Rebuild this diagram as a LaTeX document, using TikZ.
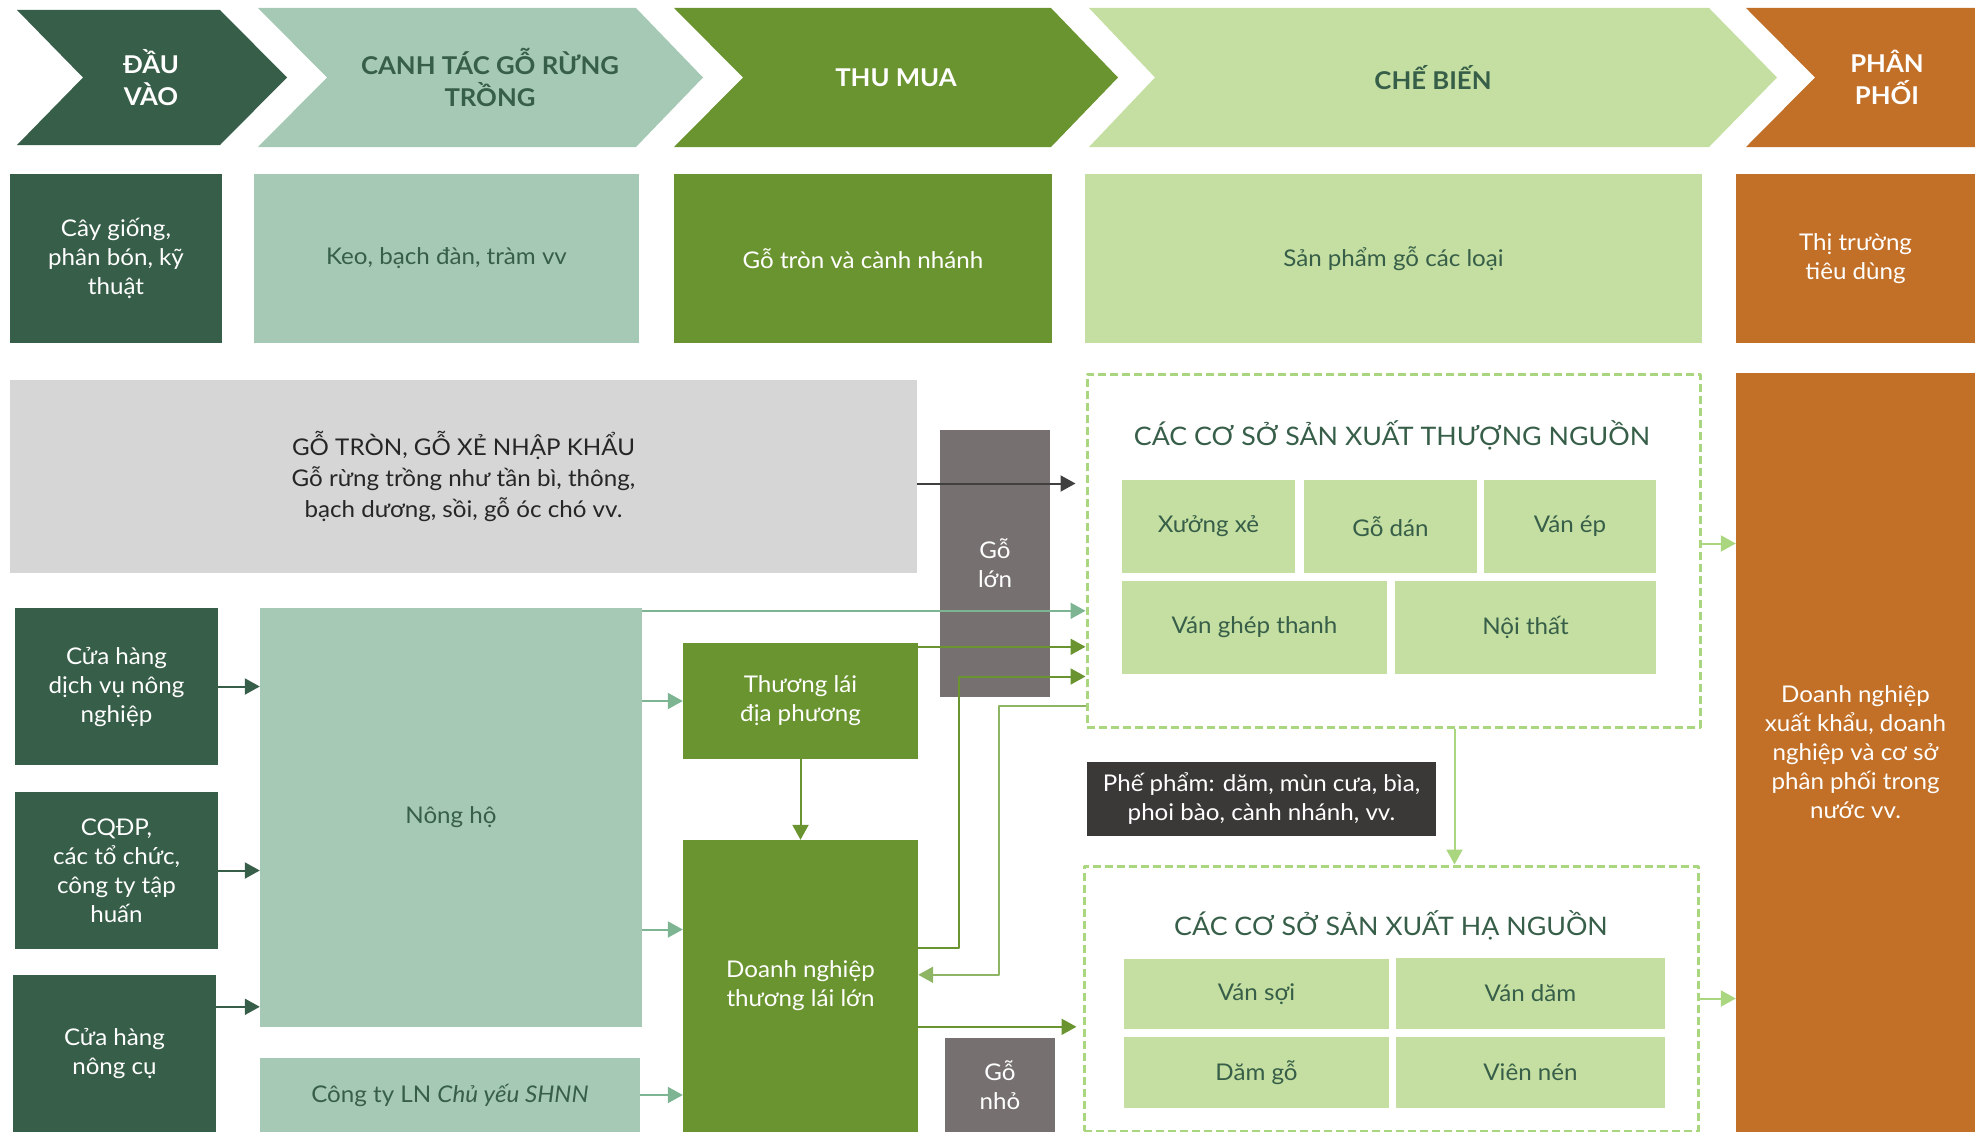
\documentclass[tikz,border=0pt]{standalone}
\usepackage{fontspec}
\setmainfont{Lato}[FakeStretch=1.05]
\usetikzlibrary{arrows.meta,calc}
\definecolor{darkgreen}{HTML}{375E48}
\definecolor{sage}{HTML}{A5C9B4}
\definecolor{sagearrow}{HTML}{7DB593}
\definecolor{olive}{HTML}{6A9430}
\definecolor{olivelight}{HTML}{8DB563}
\definecolor{lime}{HTML}{C4DFA1}
\definecolor{limeline}{HTML}{A9D67E}
\definecolor{rust}{HTML}{C27027}
\definecolor{greylight}{HTML}{D6D6D6}
\definecolor{greydark}{HTML}{767170}
\definecolor{charcoal}{HTML}{3A3937}
\begin{document}
\begin{tikzpicture}[x=1pt,y=-1pt,line join=round,
  box/.style={inner sep=0pt,align=center,font=\fontsize{23}{29}\selectfont},
  head/.style={inner sep=0pt,align=center,font=\bfseries\fontsize{24.5}{32}\selectfont},
  title/.style={inner sep=0pt,text=darkgreen,font=\fontsize{25.5}{30}\selectfont},
  group/.style={draw=limeline,line width=3pt,dash pattern=on 8pt off 4pt},
  conn/.style={line width=2pt,-{Triangle[length=15pt,width=16pt]}}]
\useasboundingbox (0,0) rectangle (1975,1132);
% chevrons
\fill[darkgreen] (17,10)--(220,10)--(287,77.5)--(220,145)--(17,145)--(83,77.5)--cycle;
\fill[sage] (258,8)--(636,8)--(703,77.5)--(636,147)--(258,147)--(327,77.5)--cycle;
\fill[olive] (674,8)--(1051,8)--(1118,77.5)--(1051,147)--(674,147)--(743,77.5)--cycle;
\fill[lime] (1089,8)--(1709,8)--(1777,77.5)--(1709,147)--(1089,147)--(1155,77.5)--cycle;
\fill[rust] (1746,8)--(1975,8)--(1975,147)--(1746,147)--(1815,77.5)--cycle;
\node[head,text=white] (h1) at (151,77.5) {ĐẦU\\VÀO};
\node[head,text=darkgreen] (h2) at (490,77.5) {CANH TÁC GỖ RỪNG\\TRỒNG};
\node[head,text=white] (h3) at (896,77.5) {THU MUA};
\node[head,text=darkgreen] (h4) at (1433,77.5) {CHẾ BIẾN};
\node[head,text=white] (h5) at (1887,77.5) {PHÂN\\PHỐI};
% second row
\node[box,fill=darkgreen,text=white,minimum width=212pt,minimum height=169pt] (r1) at (116,258.5) {Cây giống,\\phân bón, kỹ\\thuật};
\node[box,fill=sage,text=darkgreen,minimum width=385pt,minimum height=169pt] (r2) at (446.5,258.5) {Keo, bạch đàn, tràm vv};
\node[box,fill=olive,text=white,minimum width=378pt,minimum height=169pt] (r3) at (863,258.5) {Gỗ tròn và cành nhánh};
\node[box,fill=lime,text=darkgreen,minimum width=617pt,minimum height=169pt] (r4) at (1393.5,258.5) {Sản phẩm gỗ các loại};
\node[box,fill=rust,text=white,minimum width=239pt,minimum height=169pt] (r5) at (1855.5,258.5) {Thị trường\\tiêu dùng};
% lower part
\node[box,fill=greylight,text=black!85,minimum width=907pt,minimum height=193pt,font=\fontsize{23}{31}\selectfont] (nhapkhau) at (463.5,476.5) {GỖ TRÒN, GỖ XẺ NHẬP KHẨU\\Gỗ rừng trồng như tần bì, thông,\\bạch dương, sồi, gỗ óc chó vv.};
\node[box,fill=greydark,text=white,minimum width=110pt,minimum height=267pt] (golon) at (995,563.5) {Gỗ\\lớn};
\node[box,fill=darkgreen,text=white,minimum width=203pt,minimum height=157pt] (cuahang) at (116.5,686.5) {Cửa hàng\\dịch vụ nông\\nghiệp};
\node[box,fill=darkgreen,text=white,minimum width=203pt,minimum height=157pt] (cqdp) at (116.5,870.5) {CQĐP,\\các tổ chức,\\công ty tập\\huấn};
\node[box,fill=darkgreen,text=white,minimum width=203pt,minimum height=157pt] (nongcu) at (114.5,1053.5) {Cửa hàng\\nông cụ};
\node[box,fill=sage,text=darkgreen,minimum width=382pt,minimum height=419pt] (nongho) at (451,817.5) {Nông hộ};
\node[box,fill=sage,text=darkgreen,minimum width=380pt,minimum height=74pt] (congty) at (450,1095) {Công ty LN \textit{Chủ yếu SHNN}};
\node[box,fill=olive,text=white,minimum width=235pt,minimum height=116pt] (thuonglai) at (800.5,701) {Thương lái\\địa phương};
\node[box,fill=olive,text=white,minimum width=235pt,minimum height=292pt] (dnlon) at (800.5,986) {Doanh nghiệp\\thương lái lớn};
\node[box,fill=greydark,text=white,minimum width=110pt,minimum height=94pt] (gonho) at (1000,1085) {Gỗ\\nhỏ};
\node[box,fill=charcoal,text=white,minimum width=349pt,minimum height=74pt] (phepham) at (1261.5,799) {Phế phẩm: dăm, mùn cưa, bìa,\\phoi bào, cành nhánh, vv.};
\node[box,fill=rust,text=white,minimum width=239pt,minimum height=759pt] (phanphoi) at (1855.5,752.5) {Doanh nghiệp\\xuất khẩu, doanh\\nghiệp và cơ sở\\phân phối trong\\nước vv.};
% upstream
\node[group,minimum width=613pt,minimum height=353pt] (thuongnguon) at (1393.5,550.5) {};
\node[title] (tntitle) at (1392,435) {CÁC CƠ SỞ SẢN XUẤT THƯỢNG NGUỒN};
\node[box,fill=lime,text=darkgreen,minimum width=173pt,minimum height=93pt] (xuongxe) at (1208.5,526.5) {Xưởng xẻ};
\node[box,fill=lime,text=darkgreen,minimum width=173pt,minimum height=93pt] (godan) at (1390.5,526.5) {Gỗ dán};
\node[box,fill=lime,text=darkgreen,minimum width=172pt,minimum height=93pt] (vanep) at (1570,526.5) {Ván ép};
\node[box,fill=lime,text=darkgreen,minimum width=265pt,minimum height=93pt] (vanghep) at (1254.5,627.5) {Ván ghép thanh};
\node[box,fill=lime,text=darkgreen,minimum width=261pt,minimum height=93pt] (noithat) at (1525.5,627.5) {Nội thất};
% downstream
\node[group,minimum width=614pt,minimum height=265pt] (hanguon) at (1391,998.5) {};
\node[title] (hntitle) at (1391,925) {CÁC CƠ SỞ SẢN XUẤT HẠ NGUỒN};
\node[box,fill=lime,text=darkgreen,minimum width=265pt,minimum height=70pt] (vansoi) at (1256.5,994) {Ván sợi};
\node[box,fill=lime,text=darkgreen,minimum width=269pt,minimum height=71pt] (vandam) at (1530.5,993.5) {Ván dăm};
\node[box,fill=lime,text=darkgreen,minimum width=265pt,minimum height=71pt] (damgo) at (1256.5,1072.5) {Dăm gỗ};
\node[box,fill=lime,text=darkgreen,minimum width=269pt,minimum height=71pt] (viennen) at (1530.5,1072.5) {Viên nén};
% connectors
\draw[conn,darkgreen] (cuahang.east) -- (cuahang.east -| nongho.west);
\draw[conn,darkgreen] (cqdp.east) -- (cqdp.east -| nongho.west);
\draw[conn,darkgreen] ($(nongcu.north east)+(0,32)$) coordinate (s3) -- (s3 -| nongho.west);
\draw[conn,sagearrow] ($(nongho.north east)+(0,3)$) coordinate (s7) -- (s7 -| thuongnguon.west);
\draw[conn,sagearrow] (thuonglai.west -| nongho.east) -- (thuonglai.west);
\draw[conn,sagearrow] ($(nongho.east)+(0,112)$) coordinate (s5) -- (s5 -| dnlon.west);
\draw[conn,sagearrow] (congty.east) -- (congty.east -| dnlon.west);
\draw[conn,olive] ($(thuonglai.north east)+(0,4)$) coordinate (s8) -- (s8 -| thuongnguon.west);
\draw[conn,olive] (thuonglai.south) -- (dnlon.north);
\draw[conn,olive] ($(dnlon.north east)+(0,108)$) -- ++(41,0) |- ($(thuongnguon.north west)+(0,304)$);
\draw[conn,olivelight] ($(thuongnguon.north west)+(0,333)$) -- ++(-87,0) |- ($(dnlon.north east)+(0,135)$);
\draw[conn,olive,shorten >=6pt] ($(dnlon.north east)+(0,187)$) coordinate (s12) -- (s12 -| hanguon.west);
\draw[conn,black!75,shorten >=10pt] ($(nhapkhau.east)+(0,7)$) coordinate (s13) -- (s13 -| thuongnguon.west);
\draw[conn,limeline] ($(thuongnguon.east)+(0,-7)$) coordinate (s14) -- (s14 -| phanphoi.west);
\draw[conn,limeline] (hanguon.east) -- (hanguon.east -| phanphoi.west);
\draw[conn,limeline] ($(thuongnguon.south)+(61,0)$) coordinate (s16) -- (s16 |- hanguon.north);
\end{tikzpicture}
\end{document}
